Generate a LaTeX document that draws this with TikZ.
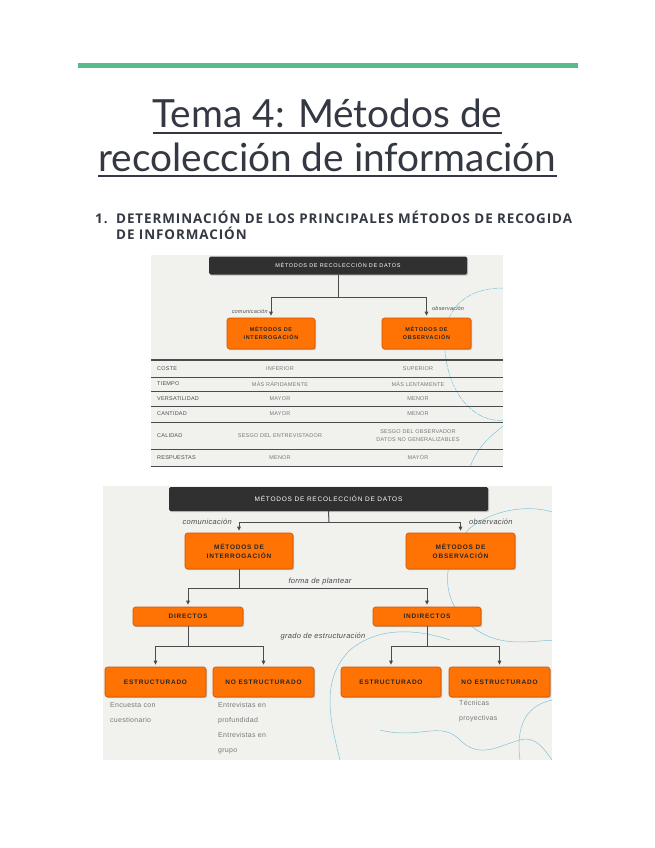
\documentclass[tikz,border=0pt]{standalone}
\usepackage{fontspec}
\setmainfont{Lato}
\newfontfamily\headfont[LetterSpace=7]{Open Sans}
\newfontfamily\dfont[LetterSpace=12]{Liberation Sans}
\newfontfamily\tfont[LetterSpace=4]{Liberation Sans}
\usetikzlibrary{arrows.meta,shadows}
\definecolor{gbar}{RGB}{87,187,138}
\definecolor{ttl}{RGB}{52,56,66}
\definecolor{org}{RGB}{255,115,5}
\definecolor{orgd}{RGB}{205,85,0}
\definecolor{dark}{RGB}{48,48,48}
\definecolor{panel}{RGB}{241,241,238}
\definecolor{lgray}{RGB}{75,75,75}
\definecolor{vgray}{RGB}{120,120,120}
\definecolor{lblue}{RGB}{130,195,215}
\tikzset{
  orangebox/.style={draw=orgd, fill=org, rounded corners=2.5pt, line width=0.6pt,
    drop shadow={shadow xshift=1.2pt, shadow yshift=-1.2pt, opacity=0.45},
    align=center, inner sep=0pt, font=\dfont\bfseries\fontsize{6.5}{9}\selectfont, text=black!85},
  darkbox/.style={fill=dark, rounded corners=1.5pt,
    drop shadow={shadow xshift=1.2pt, shadow yshift=-1.2pt, opacity=0.4},
    inner sep=0pt, text=white, font=\dfont\fontsize{6.5}{8}\selectfont},
  conn/.style={draw=lgray, line width=1pt},
  arr/.style={draw=lgray, line width=1pt, -{Triangle[length=4pt,width=3.6pt]}, shorten >=2pt},
  lbl/.style={font=\tfont\itshape\fontsize{7.5}{9}\selectfont, text=lgray, inner sep=0pt},
  lblsm/.style={font=\tfont\itshape\fontsize{5.5}{7}\selectfont, text=lgray, inner sep=0pt},
  tlab/.style={font=\tfont\fontsize{5.5}{7}\selectfont, text=black!70, inner sep=0pt, anchor=west},
  tval/.style={font=\tfont\fontsize{5.5}{7.5}\selectfont, text=vgray, inner sep=0pt, align=center},
  note/.style={font=\tfont\fontsize{7}{15}\selectfont, text=vgray, inner sep=0pt, anchor=north west, align=left},
  tline/.style={draw=lgray, line width=0.5pt},
  deco/.style={draw=lblue, line width=0.5pt},
  ttlfont/.style={anchor=base, inner sep=0pt, text=ttl, font=\fontsize{38.8}{46}\selectfont},
  headtxt/.style={anchor=base west, inner sep=0pt, text=ttl, font=\headfont\bfseries\fontsize{13.4}{15}\selectfont}
}
\begin{document}
\begin{tikzpicture}[x=1pt,y=-1pt]
\useasboundingbox (0,0) rectangle (655,848);
\fill[white] (0,0) rectangle (655,848);
% green bar
\fill[gbar] (78,63) rectangle (578,68);
% title
\node[ttlfont] (t1) at (327.5,128) {Tema 4: Métodos de};
\node[ttlfont] (t2) at (327.5,171) {recolección de información};
\draw[ttl, line width=1.6pt] ([yshift=-5pt]t1.base west) -- ([yshift=-5pt]t1.base east);
\draw[ttl, line width=1.6pt] ([yshift=-5pt]t2.base west) -- ([yshift=-5pt]t2.base east);
% heading
\node[headtxt] (h0) at (95,223) {1.};
\node[headtxt] (ha) at (116,223) {DETERMINACIÓN DE LOS PRINCIPALES MÉTODOS DE RECOGIDA};
\node[headtxt] (hb) at (116,239) {DE INFORMACIÓN};

% ===== image 1 =====
\fill[panel] (151,255) rectangle (503,467);
\begin{scope}
\clip (151,255) rectangle (503,467);
\draw[deco, dashed, dash pattern=on 6pt off 1pt] (560,300) .. controls (480,270) and (440,300) .. (445,350) .. controls (450,420) and (510,440) .. (530,400);
\draw[deco] (470,467) .. controls (480,440) and (500,430) .. (510,420);
\end{scope}
\node[darkbox, minimum width=258pt, minimum height=18pt, font=\dfont\fontsize{5.5}{7}\selectfont] (h1) at (338,265.5) {MÉTODOS DE RECOLECCIÓN DE DATOS};
\node[orangebox, minimum width=88pt, minimum height=31pt, font=\dfont\bfseries\fontsize{5.5}{8}\selectfont] (i1) at (271,333.5) {MÉTODOS DE\\INTERROGACIÓN};
\node[orangebox, minimum width=89pt, minimum height=31pt, font=\dfont\bfseries\fontsize{5.5}{8}\selectfont] (o1) at (426.5,333.5) {MÉTODOS DE\\OBSERVACIÓN};
\coordinate (j1) at (338,297);
\draw[conn] (h1.south) -- (j1);
\draw[arr] (j1) -| (i1.north);
\draw[arr] (j1) -| (o1.north);
\node[lblsm, anchor=east] (c1) at (268,311) {comunicación};
\node[lblsm, anchor=west] (b1) at (432,308.5) {observación};
% table
\foreach \yy in {360,377,391,406,422,449,466} \draw[tline] (151,\yy) -- (503,\yy);
\draw[lgray, line width=1.2pt] (151,360) -- (503,360);
\node[tlab] (r1) at (157,369) {COSTE};
\node[tlab] (r2) at (157,384) {TIEMPO};
\node[tlab] (r3) at (157,398.5) {VERSATILIDAD};
\node[tlab] (r4) at (157,414) {CANTIDAD};
\node[tlab] (r5) at (157,435.5) {CALIDAD};
\node[tlab] (r6) at (157,458) {RESPUESTAS};
\node[tval] (a1) at (280,369) {INFERIOR};
\node[tval] (b1v) at (418,369) {SUPERIOR};
\node[tval] (a2) at (280,384) {MÁS RÁPIDAMENTE};
\node[tval] (b2v) at (418,384) {MÁS LENTAMENTE};
\node[tval] (a3) at (280,398.5) {MAYOR};
\node[tval] (b3v) at (418,398.5) {MENOR};
\node[tval] (a4) at (280,414) {MAYOR};
\node[tval] (b4v) at (418,414) {MENOR};
\node[tval] (a5) at (280,435.5) {SESGO DEL ENTREVISTADOR};
\node[tval] (b5v) at (418,435.5) {SESGO DEL OBSERVADOR\\DATOS NO GENERALIZABLES};
\node[tval] (a6) at (280,458) {MENOR};
\node[tval] (b6v) at (418,458) {MAYOR};

% ===== image 2 =====
\fill[panel] (103,486) rectangle (552,760);
\begin{scope}
\clip (103,486) rectangle (552,760);
\draw[deco] (470,528) .. controls (500,505) and (540,505) .. (560,515);
\draw[deco] (470,528) .. controls (440,560) and (440,600) .. (470,625) .. controls (500,650) and (530,640) .. (560,640);
\draw[deco] (340,760) .. controls (330,720) and (320,680) .. (350,650) .. controls (380,625) and (420,630) .. (450,640);
\draw[deco] (380,730) .. controls (420,740) and (440,720) .. (460,740) .. controls (480,760) and (500,745) .. (520,740) .. controls (535,735) and (545,750) .. (552,760);
\draw[deco] (520,760) .. controls (515,720) and (530,705) .. (552,700);
\end{scope}
\node[darkbox, minimum width=319pt, minimum height=24pt] (h2) at (328.5,499) {MÉTODOS DE RECOLECCIÓN DE DATOS};
\node[orangebox, minimum width=108pt, minimum height=36pt] (i2) at (239,551) {MÉTODOS DE\\INTERROGACIÓN};
\node[orangebox, minimum width=109pt, minimum height=36pt] (o2) at (460.5,551) {MÉTODOS DE\\OBSERVACIÓN};
\node[orangebox, minimum width=110pt, minimum height=19pt] (d2) at (188,616.5) {DIRECTOS};
\node[orangebox, minimum width=108pt, minimum height=19pt] (n2) at (427,616.5) {INDIRECTOS};
\node[orangebox, minimum width=101pt, minimum height=30pt] (e1) at (155.5,682) {ESTRUCTURADO};
\node[orangebox, minimum width=101pt, minimum height=30pt] (ne1) at (263.5,682) {NO ESTRUCTURADO};
\node[orangebox, minimum width=100pt, minimum height=30pt] (e2) at (391,682) {ESTRUCTURADO};
\node[orangebox, minimum width=101pt, minimum height=30pt] (ne2) at (499.5,682) {NO ESTRUCTURADO};
\coordinate (j2) at (329,522);
\coordinate (j3) at (239,588);
\coordinate (j4) at (188,646);
\coordinate (j5) at (427,646);
\draw[conn] (h2.south) -- (j2);
\draw[arr] (j2) -| (i2.north);
\draw[arr] (j2) -| (o2.north);
\draw[conn] (i2.south) -- (j3);
\draw[arr] (j3) -| (d2.north);
\draw[arr] (j3) -| (n2.north);
\draw[conn] (d2.south) -- (j4);
\draw[arr] (j4) -| (e1.north);
\draw[arr] (j4) -| (ne1.north);
\draw[conn] (n2.south) -- (j5);
\draw[arr] (j5) -| (e2.north);
\draw[arr] (j5) -| (ne2.north);
\node[lbl, anchor=east] (c2) at (232,522) {comunicación};
\node[lbl, anchor=west] (b2) at (469,522) {observación};
\node[lbl] (f2) at (320,582) {forma de plantear};
\node[lbl] (g2) at (323,637) {grado de estructuración};
\node[note] (n1) at (110,702) {Encuesta con\\cuestionario};
\node[note] (n2t) at (218,702) {Entrevistas en\\profundidad\\Entrevistas en\\grupo};
\node[note] (n3) at (459,700) {Técnicas\\proyectivas};
\end{tikzpicture}
\end{document}
